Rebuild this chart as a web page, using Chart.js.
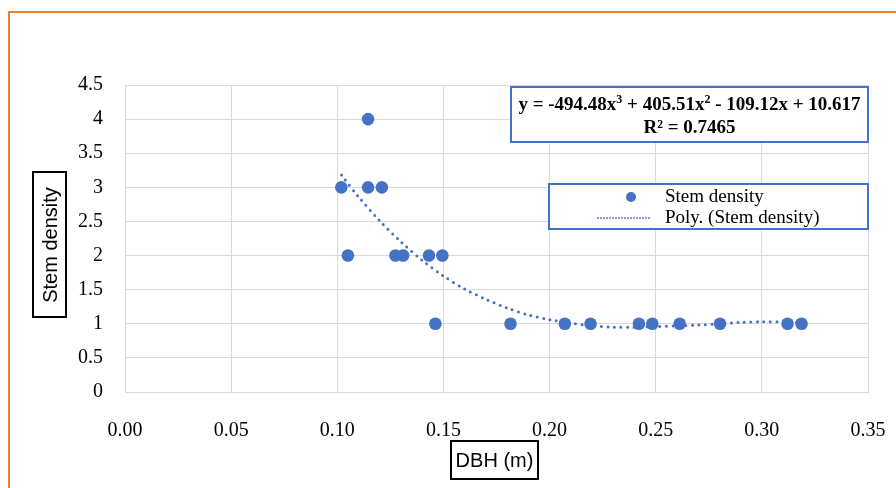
<!DOCTYPE html>
<html>
<head>
<meta charset="utf-8">
<script src="https://cdn.jsdelivr.net/npm/chart.js@4/dist/chart.umd.min.js"></script>
<style>
  html, body { margin: 0; padding: 0; background: #fff; }
  canvas { display: block; }
</style>
</head>
<body>
<canvas id="chart" width="896" height="488"></canvas>
<script>
// observed points (DBH in m, stems per tree)
const dbh = [0.1019, 0.1050, 0.1145, 0.1145, 0.1210, 0.1274, 0.1310, 0.1432, 0.1462, 0.1495,
             0.1816, 0.2072, 0.2193, 0.2421, 0.2484, 0.2613, 0.2803, 0.3121, 0.3187];
const stemDensity = [3, 2, 4, 3, 3, 2, 2, 2, 1, 2, 1, 1, 1, 1, 1, 1, 1, 1, 1];

// dotted poly trendline
const trendX = [0.102, 0.11, 0.12, 0.13, 0.14, 0.15, 0.16, 0.17, 0.18, 0.19, 0.20, 0.21,
                0.22, 0.23, 0.24, 0.25, 0.26, 0.27, 0.28, 0.29, 0.30, 0.31, 0.319];
const trendY = [3.18, 2.86, 2.51, 2.20, 1.93, 1.70, 1.51, 1.36, 1.23, 1.13, 1.06, 1.01,
                0.97, 0.95, 0.95, 0.96, 0.97, 0.98, 1.00, 1.02, 1.03, 1.03, 1.02];

const seriesLabels = ["Stem density", "Poly. (Stem density)"];
const eqParts = ["y = -494.48x", "3", " + 405.51x", "2", " - 109.12x + 10.617"];
const r2Text = "R\u00B2 = 0.7465";
const xTitle = "DBH (m)";
const yTitle = "Stem density";

const blue = "#4472C4";
const serif = "'Liberation Serif', 'Times New Roman', serif";
const sans = "'Liberation Sans', Arial, sans-serif";

Chart.defaults.font.family = serif;
Chart.defaults.color = "#000";

function box(ctx, x, y, w, h, color) {
  ctx.save();
  ctx.fillStyle = "#fff";
  ctx.fillRect(x, y, w, h);
  ctx.strokeStyle = color;
  ctx.lineWidth = 2;
  ctx.strokeRect(x, y, w, h);
  ctx.restore();
}

const decorations = {
  id: "decorations",
  beforeDraw(chart) {
    const ctx = chart.ctx;
    ctx.save();
    ctx.fillStyle = "#fff";
    ctx.fillRect(0, 0, chart.width, chart.height);
    // orange frame (runs off right and bottom)
    ctx.strokeStyle = "#ED7D31";
    ctx.lineWidth = 2;
    ctx.beginPath();
    ctx.moveTo(9, chart.height + 2);
    ctx.lineTo(9, 12);
    ctx.lineTo(chart.width + 2, 12);
    ctx.stroke();
    ctx.restore();
  },
  afterDraw(chart) {
    const ctx = chart.ctx;
    const area = chart.chartArea;
    ctx.save();

    // y axis title
    box(ctx, 33, 172, 33, 145, "#000");
    ctx.save();
    ctx.translate(50, 245);
    ctx.rotate(-Math.PI / 2);
    ctx.font = "20px " + sans;
    ctx.fillStyle = "#000";
    ctx.textAlign = "center";
    ctx.textBaseline = "middle";
    ctx.fillText(yTitle, 0, 1);
    ctx.restore();

    // x axis title
    box(ctx, 451, 441, 87, 38, "#000");
    ctx.font = "20px " + sans;
    ctx.fillStyle = "#000";
    ctx.textAlign = "center";
    ctx.textBaseline = "middle";
    ctx.fillText(xTitle, 494.5, 461);

    // equation box
    const right = area.right;
    box(ctx, 511, 87, right - 511, 55, blue);
    const mainFont = "bold 19px " + serif;
    const supFont = "bold 12px " + serif;
    let total = 0;
    const widths = eqParts.map((p, i) => {
      ctx.font = i % 2 ? supFont : mainFont;
      const w = ctx.measureText(p).width;
      total += w;
      return w;
    });
    let x = (511 + right) / 2 - total / 2;
    ctx.textAlign = "left";
    ctx.textBaseline = "alphabetic";
    eqParts.forEach((p, i) => {
      ctx.font = i % 2 ? supFont : mainFont;
      ctx.fillText(p, x, i % 2 ? 103 : 110);
      x += widths[i];
    });
    ctx.font = mainFont;
    ctx.textAlign = "center";
    ctx.fillText(r2Text, (511 + right) / 2, 133);

    // legend
    box(ctx, 549, 184, right - 549, 45, blue);
    ctx.fillStyle = blue;
    ctx.beginPath();
    ctx.arc(631, 197, 5, 0, Math.PI * 2);
    ctx.fill();
    ctx.strokeStyle = blue;
    ctx.lineWidth = 1.8;
    ctx.lineCap = "round";
    ctx.setLineDash([0, 3]);
    ctx.beginPath();
    ctx.moveTo(598, 218);
    ctx.lineTo(651, 218);
    ctx.stroke();
    ctx.setLineDash([]);
    ctx.font = "19px " + serif;
    ctx.fillStyle = "#000";
    ctx.textAlign = "left";
    ctx.textBaseline = "middle";
    ctx.fillText(seriesLabels[0], 665, 197);
    ctx.fillText(seriesLabels[1], 665, 218);

    ctx.restore();
  }
};

new Chart(document.getElementById("chart"), {
  type: "scatter",
  data: {
    datasets: [
      {
        label: seriesLabels[1],
        type: "line",
        data: trendX.map((x, i) => ({ x, y: trendY[i] })),
        borderColor: blue,
        borderWidth: 3,
        borderDash: [0, 6.5],
        borderCapStyle: "round",
        pointRadius: 0,
        tension: 0.3,
        fill: false,
        order: 0
      },
      {
        label: seriesLabels[0],
        data: dbh.map((x, i) => ({ x, y: stemDensity[i] })),
        backgroundColor: blue,
        borderWidth: 0,
        pointRadius: 6.3,
        order: 1
      }
    ]
  },
  options: {
    responsive: false,
    animation: false,
    layout: { padding: { left: 0, top: 85, right: 28, bottom: 0 } },
    plugins: { legend: { display: false }, tooltip: { enabled: false } },
    scales: {
      x: {
        type: "linear",
        min: 0,
        max: 0.35,
        afterFit(s) { s.height = 96; s.paddingLeft = 0; s.paddingRight = 0; },
        ticks: {
          stepSize: 0.05,
          padding: 27,
          font: { size: 20 },
          callback: v => v.toFixed(2)
        },
        grid: { color: "#d9d9d9", drawTicks: false },
        border: { color: "#d9d9d9" }
      },
      y: {
        min: 0,
        max: 4.5,
        afterFit(s) { s.width = 125; s.paddingTop = 0; s.paddingBottom = 0; },
        ticks: {
          stepSize: 0.5,
          padding: 22,
          font: { size: 20 },
          callback: v => String(Math.round(v * 10) / 10)
        },
        grid: { color: "#d9d9d9", drawTicks: false },
        border: { color: "#d9d9d9" }
      }
    }
  },
  plugins: [decorations]
});
</script>
</body>
</html>
